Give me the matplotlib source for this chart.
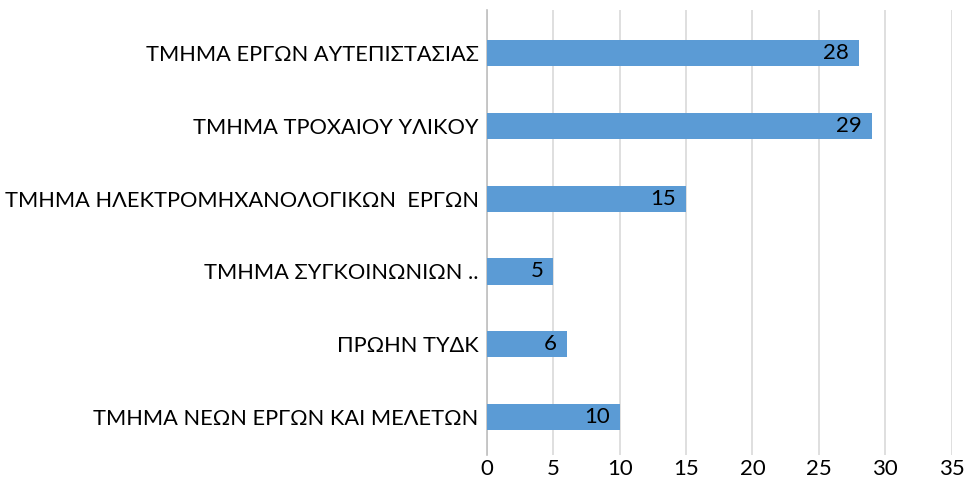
import matplotlib
matplotlib.use('Agg')
from matplotlib import pyplot as plt

categories = [
    'ΤΜΗΜΑ ΕΡΓΩΝ ΑΥΤΕΠΙΣΤΑΣΙΑΣ',
    'ΤΜΗΜΑ ΤΡΟΧΑΙΟΥ ΥΛΙΚΟΥ',
    'ΤΜΗΜΑ ΗΛΕΚΤΡΟΜΗΧΑΝΟΛΟΓΙΚΩΝ  ΕΡΓΩΝ',
    'ΤΜΗΜΑ ΣΥΓΚΟΙΝΩΝΙΩΝ ..',
    'ΠΡΩΗΝ ΤΥΔΚ',
    'ΤΜΗΜΑ ΝΕΩΝ ΕΡΓΩΝ ΚΑΙ ΜΕΛΕΤΩΝ',
]
values = [28, 29, 15, 5, 6, 10]
x_ticks = [0, 5, 10, 15, 20, 25, 30, 35]

plt.rcParams['font.family'] = ['Lato', 'DejaVu Sans']

fig = plt.figure(figsize=(9.66, 4.86), dpi=100)
ax = fig.add_axes([0.504, 0.064, 0.481, 0.915])

ypos = list(range(len(categories)))
ax.barh(ypos, values, height=0.36, color='#5B9BD5', zorder=3)

for y, v in zip(ypos, values):
    ax.annotate(str(v), xy=(v, y), xytext=(-7, 0), textcoords='offset points',
                ha='right', va='center', fontsize=16, color='black', zorder=4)

ax.set_yticks(ypos)
ax.set_yticklabels(categories, fontsize=15.7)
ax.set_ylim(5.52, -0.59)

ax.set_xlim(0, 35)
ax.set_xticks(x_ticks)
ax.set_xticklabels([str(t) for t in x_ticks], fontsize=16)
ax.grid(axis='x', color='#D9D9D9', linewidth=1.2, zorder=0)

for side in ['top', 'right', 'bottom']:
    ax.spines[side].set_visible(False)
ax.spines['left'].set_color('#BFBFBF')
ax.spines['left'].set_linewidth(1.2)
ax.tick_params(axis='y', length=0, pad=6)
ax.tick_params(axis='x', length=0, pad=3)

fig.savefig('out.png', dpi=100)
